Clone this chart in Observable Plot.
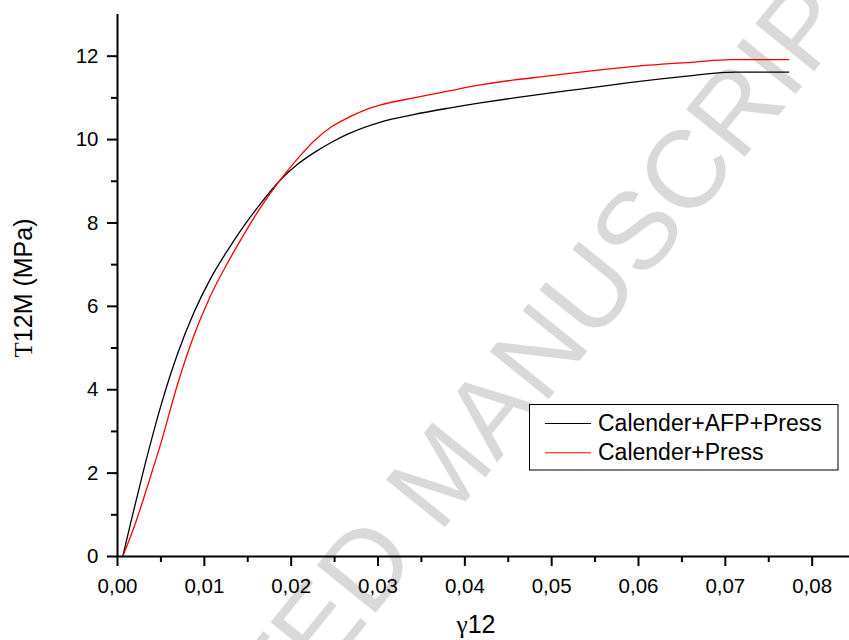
<!DOCTYPE html>
<html><head><meta charset="utf-8">
<script src="https://cdn.jsdelivr.net/npm/d3@7"></script>
<script src="https://cdn.jsdelivr.net/npm/@observablehq/plot@0.6"></script>
<style>body{margin:0;background:#fff}#chart{width:849px;height:640px}</style>
</head><body><div id="chart"></div>
<script>
const seriesNames = ["Calender+AFP+Press", "Calender+Press"];
const seriesColors = ["#000000", "#ff0000"];

const gammaAFP = [0.0006,0.0016,0.0031,0.0050,0.0069,0.0088,0.0107,0.0127,0.0146,0.0165,0.0187,0.0207,0.0226,0.0246,0.0265,0.0303,0.0341,0.0380,0.0418,0.0457,0.0495,0.0533,0.0587,0.0664,0.0700,0.0712,0.0773];
const tauAFP   = [0,0.88,2.15,3.62,4.85,5.85,6.66,7.35,7.94,8.47,9.02,9.40,9.68,9.93,10.13,10.42,10.60,10.75,10.88,11.00,11.11,11.21,11.36,11.54,11.61,11.62,11.62];

const gammaPress = [0.0006,0.0019,0.0031,0.0040,0.0050,0.0069,0.0088,0.0107,0.0127,0.0146,0.0165,0.0187,0.0207,0.0226,0.0246,0.0265,0.0284,0.0303,0.0341,0.0380,0.0418,0.0457,0.0495,0.0533,0.0587,0.0664,0.0706,0.0773];
const tauPress   = [0,0.70,1.45,2.05,2.72,4.12,5.30,6.25,7.05,7.74,8.38,9.02,9.53,9.96,10.30,10.52,10.70,10.83,11.0,11.16,11.31,11.43,11.52,11.62,11.74,11.86,11.92,11.92];

const xMajorTicks = [0,0.01,0.02,0.03,0.04,0.05,0.06,0.07,0.08];
const xMinorTicks = [0.005,0.015,0.025,0.035,0.045,0.055,0.065,0.075];
const yMajorTicks = [0,2,4,6,8,10,12];
const yMinorTicks = [1,3,5,7,9,11];
const xDomain = [0, 0.0843];
const yDomain = [0, 13];

const xTitleSymbol = "γ", xTitleRest = "12";
const yTitleSymbol = "Τ", yTitleRest = "12M (MPa)";
const watermarkText = "ACCEPTED MANUSCRIPT";

const rows = [
  ...gammaAFP.map((g, i) => ({series: seriesNames[0], gamma: g, tau: tauAFP[i]})),
  ...gammaPress.map((g, i) => ({series: seriesNames[1], gamma: g, tau: tauPress[i]}))
];

const sans = "'Liberation Sans', Arial, sans-serif";
const serif = "'Liberation Serif', 'Times New Roman', serif";
const fmt = d => d.toFixed(2).replace(".", ",");

const svgNode = Plot.plot({
  width: 849, height: 640,
  marginLeft: 117, marginRight: 0, marginTop: 14, marginBottom: 84,
  style: {fontFamily: sans, fontSize: "20.5px", color: "#000", background: "#fff", overflow: "visible"},
  x: {domain: xDomain},
  y: {domain: yDomain},
  color: {domain: seriesNames, range: seriesColors},
  marks: [
    Plot.axisX({ticks: xMajorTicks, tickSize: 10, tickPadding: 12, tickFormat: fmt, label: null, strokeWidth: 2, fontSize: 20.5}),
    Plot.axisX({ticks: xMinorTicks, tickSize: 6, tickFormat: () => "", label: null, strokeWidth: 2}),
    Plot.axisY({ticks: yMajorTicks, tickSize: 10, tickPadding: 9, tickFormat: d => String(d), label: null, strokeWidth: 2, fontSize: 20.5}),
    Plot.axisY({ticks: yMinorTicks, tickSize: 6, tickFormat: () => "", label: null, strokeWidth: 2}),
    Plot.line(rows, {x: "gamma", y: "tau", z: "series", stroke: "series", strokeWidth: 1.3, curve: "monotone-x"}),
    Plot.ruleY([0], {strokeWidth: 2}),
    Plot.ruleX([0], {strokeWidth: 2})
  ]
});

document.getElementById("chart").appendChild(svgNode);
const svg = d3.select(svgNode);

// watermark (behind everything)
svg.insert("text", ":first-child")
  .attr("transform", "translate(440,472) rotate(-51)")
  .attr("text-anchor", "middle")
  .attr("dy", "0.35em")
  .attr("font-family", sans)
  .attr("font-size", 110)
  .attr("fill", "#d9d9d9")
  .text(watermarkText);
svg.insert("rect", ":first-child").attr("width", 849).attr("height", 640).attr("fill", "#fff");

// axis titles
const xt = svg.append("text").attr("x", 476).attr("y", 633).attr("text-anchor", "middle")
  .attr("font-size", 25).attr("font-family", sans).attr("fill", "#000");
xt.append("tspan").attr("font-family", serif).text(xTitleSymbol);
xt.append("tspan").text(xTitleRest);

const yt = svg.append("text").attr("transform", "translate(32,288) rotate(-90)").attr("text-anchor", "middle")
  .attr("font-size", 25).attr("font-family", sans).attr("fill", "#000");
yt.append("tspan").attr("font-family", serif).text(yTitleSymbol);
yt.append("tspan").text(yTitleRest);

// legend
const lg = svg.append("g");
lg.append("rect").attr("x", 529.5).attr("y", 404.5).attr("width", 308.5).attr("height", 65.5)
  .attr("fill", "#fff").attr("stroke", "#000").attr("stroke-width", 1);
seriesNames.forEach((name, i) => {
  const cy = 423.5 + i * 29.3;
  lg.append("line").attr("x1", 545).attr("x2", 591).attr("y1", cy).attr("y2", cy)
    .attr("stroke", seriesColors[i]).attr("stroke-width", 1);
  lg.append("text").attr("x", 598).attr("y", cy + 7.5).attr("text-anchor", "start")
    .attr("font-family", sans).attr("font-size", 23)
    .attr("fill", "#000").text(name);
});
</script>
</body></html>
